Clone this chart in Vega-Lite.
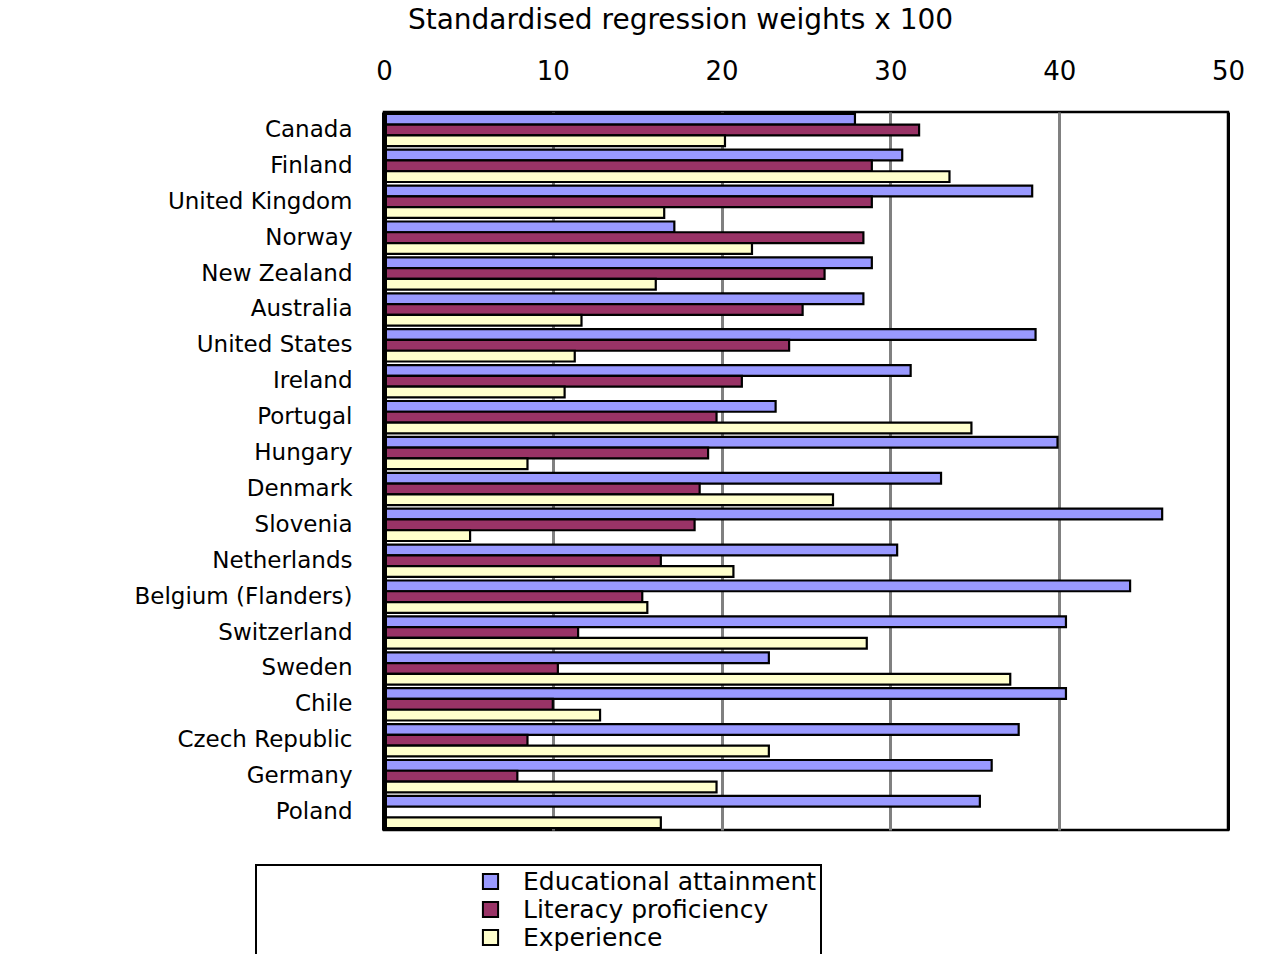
{
  "$schema": "https://vega.github.io/schema/vega-lite/v6.json",
  "autosize": {"type": "none"},
  "width": 844,
  "height": 718,
  "padding": {"left": 384, "top": 112, "right": 34, "bottom": 124},
  "background": "white",
  "data": {
    "values": [
      {"country": "Canada", "measure": "Educational attainment", "value": 27.9},
      {"country": "Canada", "measure": "Literacy proficiency", "value": 31.7},
      {"country": "Canada", "measure": "Experience", "value": 20.2},
      {"country": "Finland", "measure": "Educational attainment", "value": 30.7},
      {"country": "Finland", "measure": "Literacy proficiency", "value": 28.9},
      {"country": "Finland", "measure": "Experience", "value": 33.5},
      {"country": "United Kingdom", "measure": "Educational attainment", "value": 38.4},
      {"country": "United Kingdom", "measure": "Literacy proficiency", "value": 28.9},
      {"country": "United Kingdom", "measure": "Experience", "value": 16.6},
      {"country": "Norway", "measure": "Educational attainment", "value": 17.2},
      {"country": "Norway", "measure": "Literacy proficiency", "value": 28.4},
      {"country": "Norway", "measure": "Experience", "value": 21.8},
      {"country": "New Zealand", "measure": "Educational attainment", "value": 28.9},
      {"country": "New Zealand", "measure": "Literacy proficiency", "value": 26.1},
      {"country": "New Zealand", "measure": "Experience", "value": 16.1},
      {"country": "Australia", "measure": "Educational attainment", "value": 28.4},
      {"country": "Australia", "measure": "Literacy proficiency", "value": 24.8},
      {"country": "Australia", "measure": "Experience", "value": 11.7},
      {"country": "United States", "measure": "Educational attainment", "value": 38.6},
      {"country": "United States", "measure": "Literacy proficiency", "value": 24.0},
      {"country": "United States", "measure": "Experience", "value": 11.3},
      {"country": "Ireland", "measure": "Educational attainment", "value": 31.2},
      {"country": "Ireland", "measure": "Literacy proficiency", "value": 21.2},
      {"country": "Ireland", "measure": "Experience", "value": 10.7},
      {"country": "Portugal", "measure": "Educational attainment", "value": 23.2},
      {"country": "Portugal", "measure": "Literacy proficiency", "value": 19.7},
      {"country": "Portugal", "measure": "Experience", "value": 34.8},
      {"country": "Hungary", "measure": "Educational attainment", "value": 39.9},
      {"country": "Hungary", "measure": "Literacy proficiency", "value": 19.2},
      {"country": "Hungary", "measure": "Experience", "value": 8.5},
      {"country": "Denmark", "measure": "Educational attainment", "value": 33.0},
      {"country": "Denmark", "measure": "Literacy proficiency", "value": 18.7},
      {"country": "Denmark", "measure": "Experience", "value": 26.6},
      {"country": "Slovenia", "measure": "Educational attainment", "value": 46.1},
      {"country": "Slovenia", "measure": "Literacy proficiency", "value": 18.4},
      {"country": "Slovenia", "measure": "Experience", "value": 5.1},
      {"country": "Netherlands", "measure": "Educational attainment", "value": 30.4},
      {"country": "Netherlands", "measure": "Literacy proficiency", "value": 16.4},
      {"country": "Netherlands", "measure": "Experience", "value": 20.7},
      {"country": "Belgium (Flanders)", "measure": "Educational attainment", "value": 44.2},
      {"country": "Belgium (Flanders)", "measure": "Literacy proficiency", "value": 15.3},
      {"country": "Belgium (Flanders)", "measure": "Experience", "value": 15.6},
      {"country": "Switzerland", "measure": "Educational attainment", "value": 40.4},
      {"country": "Switzerland", "measure": "Literacy proficiency", "value": 11.5},
      {"country": "Switzerland", "measure": "Experience", "value": 28.6},
      {"country": "Sweden", "measure": "Educational attainment", "value": 22.8},
      {"country": "Sweden", "measure": "Literacy proficiency", "value": 10.3},
      {"country": "Sweden", "measure": "Experience", "value": 37.1},
      {"country": "Chile", "measure": "Educational attainment", "value": 40.4},
      {"country": "Chile", "measure": "Literacy proficiency", "value": 10.0},
      {"country": "Chile", "measure": "Experience", "value": 12.8},
      {"country": "Czech Republic", "measure": "Educational attainment", "value": 37.6},
      {"country": "Czech Republic", "measure": "Literacy proficiency", "value": 8.5},
      {"country": "Czech Republic", "measure": "Experience", "value": 22.8},
      {"country": "Germany", "measure": "Educational attainment", "value": 36.0},
      {"country": "Germany", "measure": "Literacy proficiency", "value": 7.9},
      {"country": "Germany", "measure": "Experience", "value": 19.7},
      {"country": "Poland", "measure": "Educational attainment", "value": 35.3},
      {"country": "Poland", "measure": "Experience", "value": 16.4}
    ]
  },
  "config": {
    "font": "DejaVu Sans",
    "view": {"stroke": "black", "strokeWidth": 2.5},
    "legend": {"strokeWidth": 2}
  },
  "mark": {"type": "bar", "stroke": "black", "strokeWidth": 2.2, "cornerRadius": 0},
  "encoding": {
    "y": {
      "field": "country",
      "type": "nominal",
      "scale": {
        "domain": ["Canada", "Finland", "United Kingdom", "Norway", "New Zealand", "Australia", "United States", "Ireland", "Portugal", "Hungary", "Denmark", "Slovenia", "Netherlands", "Belgium (Flanders)", "Switzerland", "Sweden", "Chile", "Czech Republic", "Germany", "Poland"],
        "paddingInner": 0.1,
        "paddingOuter": 0.05
      },
      "axis": {
        "title": null,
        "ticks": false,
        "domain": true,
        "domainColor": "black",
        "domainWidth": 5,
        "labelFontSize": 23,
        "labelColor": "black",
        "labelPadding": 32,
        "labelLimit": 400,
        "zindex": 1
      }
    },
    "yOffset": {
      "field": "measure",
      "type": "nominal",
      "scale": {
        "domain": ["Educational attainment", "Literacy proficiency", "Experience"],
        "paddingInner": 0,
        "paddingOuter": 0
      }
    },
    "x": {
      "field": "value",
      "type": "quantitative",
      "scale": {"domain": [0, 50], "nice": false},
      "axis": {
        "orient": "top",
        "title": "Standardised regression weights x 100",
        "titleFontSize": 28,
        "titleFontWeight": "normal",
        "titleColor": "black",
        "titleX": 296,
        "titleY": -92,
        "titleBaseline": "middle",
        "titleAlign": "center",
        "values": [0, 10, 20, 30, 40, 50],
        "ticks": false,
        "domain": false,
        "labelFontSize": 26,
        "labelColor": "black",
        "labelPadding": 28,
        "labelFlush": false,
        "grid": true,
        "gridColor": {"condition": {"test": "datum.value === 0 || datum.value === 50", "value": "black"}, "value": "#808080"},
        "gridWidth": 3,
        "gridOpacity": 1
      }
    },
    "fill": {
      "field": "measure",
      "type": "nominal",
      "scale": {
        "domain": ["Educational attainment", "Literacy proficiency", "Experience"],
        "range": ["#9999FF", "#993366", "#FFFFCC"]
      },
      "legend": {
        "title": null,
        "orient": "none",
        "legendX": -128,
        "legendY": 753,
        "direction": "vertical",
        "strokeColor": "black",
        "fillColor": "white",
        "padding": 4,
        "symbolType": "square",
        "symbolSize": 230,
        "symbolStrokeColor": "black",
        "symbolStrokeWidth": 2,
        "symbolOffset": 218,
        "labelOffset": 20,
        "labelFontSize": 25,
        "labelColor": "black",
        "labelLimit": 600,
        "rowPadding": 2
      }
    }
  }
}
